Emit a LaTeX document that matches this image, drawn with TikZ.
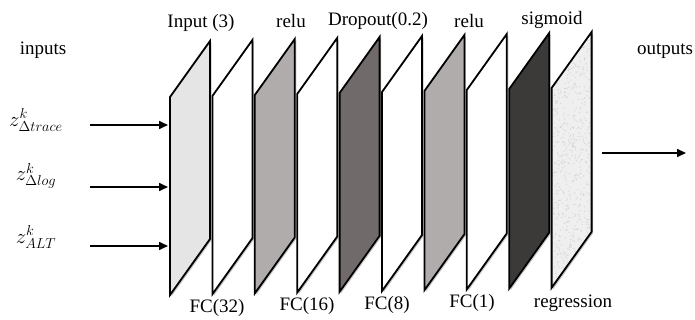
\documentclass[tikz,border=0pt]{standalone}
\usepackage{fontspec}
\setmainfont{Liberation Serif}
\usetikzlibrary{arrows.meta}
\definecolor{pLight}{HTML}{E5E5E5}
\definecolor{pMid}{HTML}{B0ACAB}
\definecolor{pDark}{HTML}{706B6A}
\definecolor{pBlack}{HTML}{3B3A39}
\definecolor{pTex}{HTML}{EFEFEF}
\tikzset{
  panel/.style={draw=black, line width=1.8pt, line join=miter},
  lbl/.style={inner sep=0pt, font=\fontsize{19}{22}\selectfont},
  mlbl/.style={inner sep=0pt, font=\fontsize{20}{24}\selectfont},
  arr/.style={line width=1.6pt, -{Triangle[length=9pt,width=8pt]}}
}
\begin{document}
\begin{tikzpicture}[x=1pt,y=-1pt]
\useasboundingbox (0,0) rectangle (695,320);
% panels
\foreach \i/\c in {0/pLight,1/white,2/pMid,3/white,4/pDark,5/white,6/pMid,7/white,8/pBlack,9/pTex} {
  \pgfmathsetmacro\xl{170+42.4*\i}
  \pgfmathsetmacro\tl{97-\i}
  \pgfmathsetmacro\bl{295-0.8*\i}
  \fill[gray!45] (\xl+1.5,\tl+1.5) -- (\xl+41.5,\tl-54.5) -- (\xl+41.5,\bl-54.5) -- (\xl+1.5,\bl+1.5) -- cycle;
  \fill[\c] (\xl,\tl) -- (\xl+40,\tl-56) -- (\xl+40,\bl-56) -- (\xl,\bl) -- cycle;
  \ifnum\i=9
    \begin{scope}
      \clip (\xl,\tl) -- (\xl+40,\tl-56) -- (\xl+40,\bl-56) -- (\xl,\bl) -- cycle;
      \pgfmathsetseed{7}
      \foreach \k in {1,...,700} {
        \fill[gray!40, opacity=0.7] ({\xl+40*rnd},{30+260*rnd}) circle (0.7);
      }
    \end{scope}
  \fi
  \draw[panel] (\xl,\tl) -- (\xl+40,\tl-56) -- (\xl+40,\bl-56) -- (\xl,\bl) -- cycle;
  \coordinate (P\i) at (\xl,195);
}
% top labels
\node[lbl] (tInput) at (201,23) {Input (3)};
\node[lbl] (tRelu1) at (291,21) {relu};
\node[lbl] (tDrop) at (378,21) {Dropout(0.2)};
\node[lbl] (tRelu2) at (469,21) {relu};
\node[lbl] (tSig) at (552,20) {sigmoid};
% bottom labels
\node[lbl] (bFC32) at (217,308) {FC(32)};
\node[lbl] (bFC16) at (307,306) {FC(16)};
\node[lbl] (bFC8) at (387,305) {FC(8)};
\node[lbl] (bFC1) at (472,303) {FC(1)};
\node[lbl] (bReg) at (573,303) {regression};
% side labels
\node[lbl] (tIn) at (43,50) {inputs};
\node[lbl] (tOut) at (665,51) {outputs};
% math labels
\node[mlbl] (z1) at (36,120) {$z^{k}_{\Delta trace}$};
\node[mlbl] (z2) at (36,176) {$z^{k}_{\Delta log}$};
\node[mlbl] (z3) at (36,237) {$z^{k}_{ALT}$};
% arrows
\coordinate (a1s) at (90,125); \coordinate (a1e) at (168,125);
\coordinate (a2s) at (90,187); \coordinate (a2e) at (168,187);
\coordinate (a3s) at (90,246); \coordinate (a3e) at (168,246);
\coordinate (os) at (602,153); \coordinate (oe) at (686,153);
\draw[arr] (a1s) -- (a1e);
\draw[arr] (a2s) -- (a2e);
\draw[arr] (a3s) -- (a3e);
\draw[arr] (os) -- (oe);
\end{tikzpicture}
\end{document}
